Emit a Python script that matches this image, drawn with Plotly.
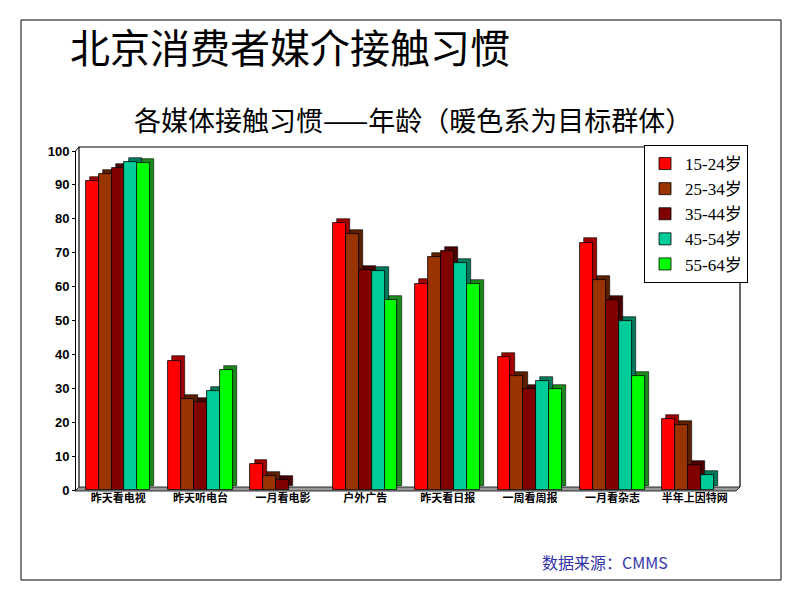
import plotly.graph_objects as go

categories = ["昨天看电视", "昨天听电台", "一月看电影", "户外广告", "昨天看日报", "一周看周报", "一月看杂志", "半年上因特网"]
series_names = ["15-24岁", "25-34岁", "35-44岁", "45-54岁", "55-64岁"]
age_15_24 = [91.2, 38.2, 7.6, 78.7, 60.9, 39.1, 73.0, 20.9]
age_25_34 = [93.1, 26.8, 4.2, 75.6, 68.6, 33.5, 61.9, 19.1]
age_35_44 = [95.1, 26.0, 2.9, 64.8, 70.5, 29.7, 56.0, 7.3]
age_45_54 = [96.8, 29.2, 0.0, 64.7, 66.9, 32.1, 49.9, 4.4]
age_55_64 = [96.5, 35.3, 0.0, 56.1, 60.7, 29.8, 33.7, 0.0]
y_ticks = [0, 10, 20, 30, 40, 50, 60, 70, 80, 90, 100]

front_colors = ["#FF0000", "#993300", "#800000", "#00CC99", "#00FF00"]
side_colors = ["#A00000", "#5C1F00", "#4A0000", "#007A5C", "#1A8A1A"]
all_series = [age_15_24, age_25_34, age_35_44, age_45_54, age_55_64]

W, H = 800, 600
ML, MR, MT, MB = 77, 64, 151, 110
PW, PH = W - ML - MR, H - MT - MB


def px(x):
    return (x - ML) / PW


def py(y):
    return (H - MB - y) / PH


fig = go.Figure()
bw = 0.157
start = -0.395
dx, dy = 0.05, 1.2
for i, (name, vals) in enumerate(zip(series_names, all_series)):
    shown = [v if v > 0 else None for v in vals]
    fig.add_trace(go.Bar(
        x=categories, y=shown, base=dy, width=bw, offset=start + i * bw + dx,
        marker=dict(color=side_colors[i], line=dict(color="black", width=0.6)),
        showlegend=False, hoverinfo="skip"))
    fig.add_trace(go.Bar(
        x=categories, y=shown, width=bw, offset=start + i * bw, name=name,
        marker=dict(color=front_colors[i], line=dict(color="black", width=0.8))))

shapes = [
    # outer frame
    dict(type="rect", xref="paper", yref="paper", x0=px(21), x1=px(781), y0=py(20), y1=py(580),
         line=dict(color="black", width=1), layer="below"),
    # back wall
    dict(type="path", xref="paper", yref="paper",
         path=f"M {px(79)} {py(487)} L {px(79)} {py(147)} L {px(740)} {py(147)} L {px(740)} {py(487)}",
         line=dict(color="black", width=1.2), layer="below"),
    # floor
    dict(type="path", xref="paper", yref="paper",
         path=f"M {px(75)} {py(491)} L {px(79)} {py(487)} L {px(740)} {py(487)} L {px(736)} {py(491)} Z",
         fillcolor="#999999", line=dict(color="black", width=0.8), layer="below"),
    # y axis line
    dict(type="line", xref="paper", yref="paper", x0=px(75.5), x1=px(75.5), y0=py(151), y1=py(491),
         line=dict(color="black", width=1)),
    dict(type="line", xref="paper", yref="paper", x0=px(75.5), x1=px(79), y0=py(151), y1=py(147),
         line=dict(color="black", width=1)),
]

annotations = [
    dict(text="北京消费者媒介接触习惯", xref="paper", yref="paper", x=px(68), y=py(46),
         xanchor="left", yanchor="middle", showarrow=False,
         font=dict(family="Noto Sans CJK SC", size=40, color="black")),
    dict(text="各媒体接触习惯——年龄（暖色系为目标群体）", xref="paper", yref="paper", x=px(413), y=py(120),
         xanchor="center", yanchor="middle", showarrow=False,
         font=dict(family="Noto Sans CJK SC", size=27, color="black")),
    dict(text="数据来源：CMMS", xref="paper", yref="paper", x=px(540), y=py(562),
         xanchor="left", yanchor="middle", showarrow=False,
         font=dict(family="Noto Sans CJK SC", size=16, color="#3333AA")),
]

fig.update_layout(
    width=W, height=H, margin=dict(l=ML, r=MR, t=MT, b=MB),
    paper_bgcolor="white", plot_bgcolor="rgba(0,0,0,0)",
    barmode="overlay", bargap=0,
    shapes=shapes, annotations=annotations,
    legend=dict(x=px(644), y=py(145), xanchor="left", yanchor="top",
                bgcolor="white", bordercolor="black", borderwidth=1,
                font=dict(family="Liberation Serif, Noto Sans CJK SC", size=17, color="black"),
                itemwidth=30, tracegroupgap=0),
    xaxis=dict(type="category", range=[-0.5, 7.5], showgrid=False, showline=False, zeroline=False,
               ticks="", tickfont=dict(family="Noto Sans CJK SC", size=11, color="black", weight="bold")),
    yaxis=dict(range=[0, 100], tickvals=y_ticks, showgrid=False, showline=False, zeroline=False,
               ticks="outside", ticklen=4, tickcolor="black",
               tickfont=dict(family="Liberation Sans", size=13, color="black", weight="bold")),
)

fig.write_html("out.html")
